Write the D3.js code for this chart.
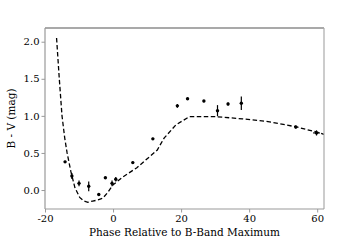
<!DOCTYPE html>
<html><head><meta charset="utf-8">
<script src="https://cdn.jsdelivr.net/npm/d3@7"></script>
<style>body{margin:0;background:#fff}</style>
</head><body><svg id="c" width="360" height="240"></svg>
<script>
const phase = [-14.1,-12.1,-10.0,-7.15,-4.2,-2.25,-0.3,0.8,5.8,11.7,18.9,21.9,26.7,30.7,33.8,37.7,53.7,59.8];
const bv    = [0.38,0.19,0.09,0.05,-0.06,0.165,0.09,0.145,0.37,0.69,1.135,1.23,1.20,1.07,1.16,1.17,0.85,0.77];
const bvErr = [0.015,0.04,0.04,0.065,0.02,0.015,0.04,0.03,0.015,0.015,0.025,0.015,0.015,0.075,0.02,0.09,0.02,0.035];
const phaseErr = [0,0,0,0,0,0,0,0,0,0,0,0,0,0,0,0,0,1.0];
const modelPhase = [-16.6,-15.8,-15.0,-14.2,-13.5,-12.4,-11.2,-9.8,-8.5,-7.4,-6,-4.5,-3,-1.5,0,3,7,11,13,15,18.5,22.5,30,38,46,54,60,62];
const modelBV    = [2.05,1.5,1.0,0.7,0.5,0.25,0.03,-0.1,-0.15,-0.165,-0.15,-0.135,-0.11,-0.03,0.07,0.18,0.3,0.46,0.54,0.7,0.88,0.99,0.99,0.96,0.92,0.85,0.78,0.75];
const xTicks = [-20,0,20,40,60];
const yTicks = [0.0,0.5,1.0,1.5,2.0];

const svg = d3.select("#c");
const L=45,R=324,T=28,B=209;
const x = d3.scaleLinear().domain([-20,62]).range([L,R]);
const y = d3.scaleLinear().domain([-0.256,2.185]).range([B,T]);
const font = "'DejaVu Serif', serif";

const g = svg.append("g");
g.append("path")
  .attr("d", d3.line().x(d=>x(d[0])).y(d=>y(d[1]))(modelPhase.map((p,i)=>[p,modelBV[i]])))
  .attr("fill","none").attr("stroke","#000").attr("stroke-width",1.3).attr("stroke-dasharray","4.5,2.5");

phase.forEach((p,i)=>{
  g.append("line").attr("x1",x(p)).attr("x2",x(p)).attr("y1",y(bv[i]-bvErr[i])).attr("y2",y(bv[i]+bvErr[i]))
   .attr("stroke","#000").attr("stroke-width",1.2);
  if (phaseErr[i]>0) g.append("line").attr("x1",x(p-phaseErr[i])).attr("x2",x(p+phaseErr[i])).attr("y1",y(bv[i])).attr("y2",y(bv[i]))
   .attr("stroke","#000").attr("stroke-width",1.2);
  g.append("circle").attr("cx",x(p)).attr("cy",y(bv[i])).attr("r",1.7).attr("fill","#000");
});

svg.append("line").attr("x1",L).attr("x2",R).attr("y1",T).attr("y2",T).attr("stroke","#555").attr("stroke-width",1.2);
svg.append("line").attr("x1",R).attr("x2",R).attr("y1",T).attr("y2",B).attr("stroke","#aaa").attr("stroke-width",1.2);

const xa = svg.append("g").attr("transform",`translate(0,${B})`)
  .call(d3.axisBottom(x).tickValues(xTicks).tickSize(3.5).tickPadding(2).tickFormat(d=>d<0?"-"+Math.abs(d):d));
const ya = svg.append("g").attr("transform",`translate(${L},0)`)
  .call(d3.axisLeft(y).tickValues(yTicks).tickSize(3.5).tickPadding(2).tickFormat(d3.format(".1f")));
[xa,ya].forEach(a=>{
  a.select(".domain").attr("stroke","#999").attr("stroke-width",1.2);
  a.selectAll(".tick line").attr("stroke","#999").attr("stroke-width",1);
  a.selectAll("text").attr("font-family",font).attr("font-size",10).attr("fill","#000");
});
ya.select(".domain").attr("d",`M-0,${B}V${T}`);
xa.select(".domain").attr("d",`M${L},0H${R}`);

svg.append("text").attr("x",(L+R)/2).attr("y",236).attr("text-anchor","middle")
  .attr("font-family",font).attr("font-size",10.5).text("Phase Relative to B-Band Maximum");
svg.append("text").attr("transform",`translate(15,${(T+B)/2}) rotate(-90)`).attr("text-anchor","middle")
  .attr("font-family",font).attr("font-size",10.5).text("B - V (mag)");
</script></body></html>
